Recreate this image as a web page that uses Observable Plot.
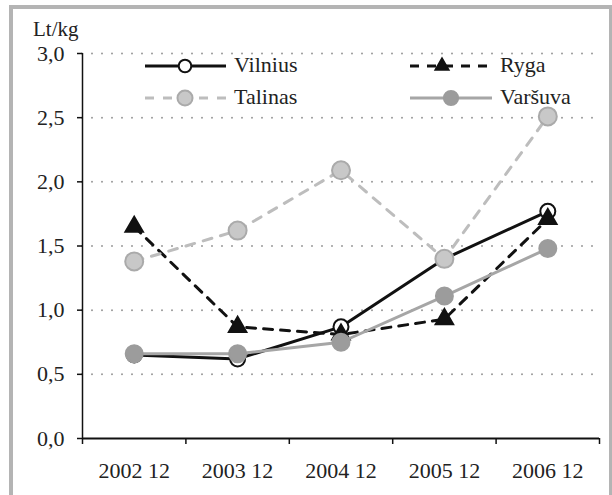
<!DOCTYPE html>
<html>
<head>
<meta charset="utf-8">
<script src="https://cdn.jsdelivr.net/npm/d3@7"></script>
<script src="https://cdn.jsdelivr.net/npm/@observablehq/plot@0.6"></script>
<style>
  html, body { margin: 0; padding: 0; background: #fff; }
  #wrap { position: relative; width: 612px; height: 495px; overflow: hidden; font-family: "Liberation Serif"; }
  #wrap svg text { font-family: "Liberation Serif" !important; }
  #frame { position: absolute; left: 9px; top: 5px; width: 596px; height: 495px; border: 4px solid #b4b4b4; border-bottom: none; box-sizing: content-box; pointer-events: none; }
  #unit { position: absolute; left: 33px; top: 17px; font-size: 21px; line-height: 25px; color: #222; }
  #legend { position: absolute; left: 0; top: 0; }
  #chart { position: absolute; left: 0; top: 0; }
</style>
</head>
<body>
<div id="wrap">
  <div id="chart"></div>
  <div id="frame"></div>
  <div id="unit">Lt/kg</div>
  <svg id="legend" width="612" height="140"></svg>
</div>
<script>
// ---- data ----
const years = [2002, 2003, 2004, 2005, 2006];
const xLabelSuffix = " 12";
const seriesNames = ["Vilnius", "Ryga", "Talinas", "Varšuva"];
const vilnius = [0.65, 0.62, 0.87, 1.40, 1.77];
const ryga    = [1.65, 0.87, 0.81, 0.93, 1.71];
const talinas = [1.38, 1.62, 2.09, 1.40, 2.51];
const varsuva = [0.66, 0.66, 0.75, 1.11, 1.48];
const yTicks = [0, 0.5, 1.0, 1.5, 2.0, 2.5, 3.0];

// ---- styles ----
const styles = {
  "Vilnius": {stroke: "#111", dash: null, symbol: "circle", fill: "#fff", mstroke: "#111", r: 7.5},
  "Ryga":    {stroke: "#111", dash: "9,8", symbol: "triangle", fill: "#111", mstroke: "#111", r: 6.5},
  "Talinas": {stroke: "#bdbdbd", dash: "9,9", symbol: "circle", fill: "#c8c8c8", mstroke: "#aaaaaa", r: 9},
  "Varšuva": {stroke: "#a6a6a6", dash: null, symbol: "circle", fill: "#9c9c9c", mstroke: "#9c9c9c", r: 8.5}
};
const valuesBySeries = {"Vilnius": vilnius, "Ryga": ryga, "Talinas": talinas, "Varšuva": varsuva};

const data = seriesNames.flatMap(s => years.map((y, i) => ({series: s, year: y, value: valuesBySeries[s][i]})));
const boundaries = [years[0] - 0.5, ...years.map(y => y + 0.5)];
const comma = d => d3.format(".1f")(d).replace(".", ",");

const marks = [
  Plot.ruleY(yTicks.filter(d => d > 0), {stroke: "#9a9a9a", strokeWidth: 2, strokeDasharray: "0,10", strokeLinecap: "round"}),
  Plot.axisY(yTicks, {tickSize: 5, tickPadding: 13, tickFormat: comma, fontSize: 22, fontFamily: "Liberation Serif", stroke: "#111", strokeWidth: 1.5, color: "#222", label: null}),
  Plot.ruleX([boundaries[0]], {y1: 0, y2: 3, stroke: "#111", strokeWidth: 1.5}),
  Plot.axisX(boundaries, {tickSize: 6, tickFormat: () => "", stroke: "#111", strokeWidth: 1.5, label: null}),
  Plot.axisX(years, {tickSize: 0, tickPadding: 24, tickFormat: d => d + xLabelSuffix, fontSize: 22, fontFamily: "Liberation Serif", color: "#222", label: null}),
  Plot.ruleY([0], {stroke: "#111", strokeWidth: 2.2})
];
for (const s of seriesNames) {
  const st = styles[s];
  const sub = data.filter(d => d.series === s);
  marks.push(Plot.line(sub, {x: "year", y: "value", stroke: st.stroke, strokeWidth: 3, strokeDasharray: st.dash}));
  marks.push(Plot.dot(sub, {x: "year", y: "value", symbol: st.symbol, r: st.r, fill: st.fill, stroke: st.mstroke, strokeWidth: 2}));
}

const chart = Plot.plot({
  width: 612,
  height: 495,
  marginLeft: 82,
  marginRight: 13,
  marginTop: 53,
  marginBottom: 57,
  style: {fontFamily: "Liberation Serif", fontSize: "22px", background: "transparent"},
  x: {domain: [boundaries[0], boundaries[boundaries.length - 1]], axis: null},
  y: {domain: [0, 3], axis: null},
  marks
});
document.getElementById("chart").appendChild(chart);

// ---- legend ----
const legendItems = [
  {name: "Vilnius", x0: 145, x1: 226, mx: 185, y: 66},
  {name: "Ryga",    x0: 410, x1: 492, mx: 442, y: 66},
  {name: "Talinas", x0: 145, x1: 226, mx: 185, y: 98},
  {name: "Varšuva", x0: 410, x1: 492, mx: 451, y: 98}
];
const lg = d3.select("#legend");
for (const it of legendItems) {
  const st = styles[it.name];
  lg.append("line").attr("x1", it.x0).attr("x2", it.x1).attr("y1", it.y).attr("y2", it.y)
    .attr("stroke", st.stroke).attr("stroke-width", 3).attr("stroke-dasharray", st.dash);
  const sym = st.symbol === "triangle" ? d3.symbolTriangle : d3.symbolCircle;
  lg.append("path").attr("d", d3.symbol(sym, st.r * st.r * Math.PI * (st.symbol === "triangle" ? 0.55 : 0.7))())
    .attr("transform", `translate(${it.mx},${it.y})`)
    .attr("fill", st.fill).attr("stroke", st.mstroke).attr("stroke-width", 2);
  lg.append("text").attr("x", it.x1 + 8).attr("y", it.y + 6)
    .attr("font-family", "Liberation Serif").attr("font-size", 22)
    .attr("fill", "#222").text(it.name);
}
</script>
</body>
</html>
